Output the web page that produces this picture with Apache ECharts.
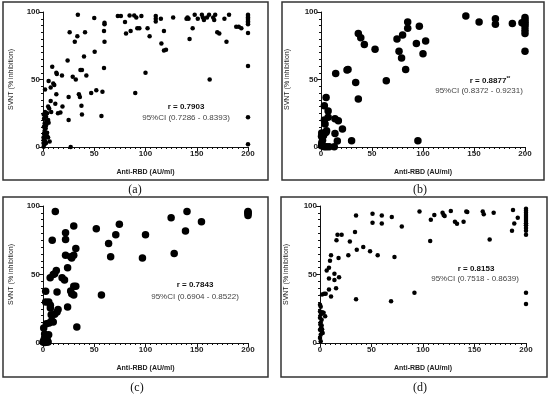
<!DOCTYPE html>
<html><head><meta charset="utf-8">
<script src="https://cdn.jsdelivr.net/npm/echarts@6/dist/echarts.min.js"></script>
<style>html,body{margin:0;padding:0;background:#fff}#c{width:550px;height:396px}</style>
</head><body><div id="c"></div>
<script>
// ---- data (x = Anti-RBD AU/ml, y = SVNT % inhibition) ----
const xTicks = [0, 50, 100, 150, 200];
const yTicks = [0, 50, 100];
const panelLabels = ['(a)', '(b)', '(c)', '(d)'];
const rValues = ['r = 0.7903', 'r = 0.8877', 'r = 0.7843', 'r = 0.8153'];
const ciValues = ['95%CI (0.7286 - 0.8393)', '95%CI (0.8372 - 0.9231)', '95%CI (0.6904 - 0.8522)', '95%CI (0.7518 - 0.8639)'];

const panelA = [[34,98],[50,95.5],[60,92],[60,91],[59.5,86],[60,78],[41,85],[26,85],[33.5,82],[31,78],
[73,97],[76,97],[80,92.6],[84.5,97.5],[89,97.5],[91,96],[96,97],[81,84],[85.5,86],[92,88],[94,88],[102,88],[104,82],
[110,97],[110,95],[110,93],[115,95],[115.5,76.6],[118,86],[118,71.5],[120,72],[127,96],
[140,95],[141,96],[142,95],[143,80],[146,88],[148,98],[151,95],[155,98],[156,96],[157,94],[160,96],[162,98],[166,96],[167,94],[168,98],[170,85],[172,84],[177,95],[179,78],[181.5,98],[188.5,89],[191,89],[193.5,88],
[200,98],[200,97],[200,96],[200,95],[200,94],[200,93],[200,92],[200,91],[200,84.5],[200,60],[200,22],[200,2],
[162.6,50],[100,55],[90,40],
[24,64],[40,67],[50.4,70.5],[59.5,58.6],[9,59.4],[13,55],[13.5,54],[18.5,53],[36.5,57],[38,57],[42.3,53],[29,52],[32,50],[5.5,48.8],[10,47],[11,46],[7.5,44],[2,42.6],[13,39],[7.5,34],[25,37],[35,39],[36,37],[47,40],[52,42],[58,41],[37.5,30.5],[38,24],[57,23],[25,20],[19,30],[14.6,25],[17,25.5],[12,32],[5,30],[6,28.5],[27,0],
[0.7,24],[1,21],[3,22.4],[5,20],[1.6,17.5],[3,16],[0.9,15],[5.5,18],[2.6,13.8],[1.6,12],[4,10.6],[1.6,9],[3,7.6],[5,7],[1,5.7],[6.5,4],[3,3],[1.6,2],[0.6,0.2],[2,26],[4,25],[8,26],[1,10],[2,4.5],[4,8],[0.5,7],[3.5,19],[0.5,3]];

const panelB = [[142,97],[155,92.6],[171,95],[171,91],[187.6,91.4],[200,96],[200,94],[200,92.5],[200,91],[200,89],[200,86.5],[200,84],[200,71],[197,92],
[36.6,84],[39,81],[42.5,76],[53,72.4],[85,92.6],[85,88],[96.4,89.4],[80,83],[74.5,80],[76.5,71],[79,66],[93.5,76.6],[102.6,78.6],[100,69],[83,57.4],[64,49],[34,47.8],[36.6,35.5],[25.5,57],[26.5,57.5],[14.4,54.4],[5,36.7],[3.3,30.5],[7,26.6],[7,22],[13.7,21],[17,19.5],[3.3,20],[4,17],[21,13.3],[13.7,10],[16,4.4],[30,4.7],[95,4.7],[13,0.2],
[0.7,10.3],[2,9],[0.5,8],[4,10.5],[5.5,12],[1.5,5],[0.7,3],[3.3,0.2],[5.5,0.2],[8,0.2],[0.5,1],[2.5,8.5],[5,11]];

const panelC = [[12,96],[30,85.4],[32,69],[22,80.5],[22,75.6],[9,75],[30,64],[22,64],[27,63],[28,62],[24,55],[13,53],[10,50],[11.4,50.5],[7,47.6],[18.6,47.6],[21,46],[2.6,37.8],[13.7,37.3],[27,38],[28,36],[30,35],[30,41.5],[32,41.5],[2.6,30],[5.6,30],[7.2,27.5],[7.2,25.6],[14.7,24.4],[13.7,22.7],[24,26.3],[11.4,21],[8,20.7],[10,15.4],[8.5,16.3],[3.3,14],[0.7,11],[6,14.6],[33,11.7],
[1.6,6.6],[2.6,4],[1,2.4],[3.3,0.5],[5,0.7],[0,0.7],[5.5,6],[1.5,0.3],[4,3],
[52,83.4],[74.5,86.6],[71,79],[64,72.7],[66,63],[57,35],[100,79],[97,62],[125,91.5],[140.5,96],[139,81.7],[128,65.4],[154.6,88.5],[200,96],[200,94.6],[200,93],[200,95.3]];

const panelD = [[35,93],[51,94.4],[51,87.8],[60,93],[60,87.3],[69.7,92],[79.4,85],[96.6,96],[107.6,90],[111,93.4],[107,74.4],[119,95],[120,93.4],[121,92.7],[127,96.3],[131,88.5],[133,87],[139.4,88.5],[142,96],[143,95.6],[158,96],[159,94],[164.7,75.6],[168.6,95],[187.4,97],[186.4,82],[188.6,87.3],[192,91.5],
[200,98],[200,96.5],[200,95],[200,93.5],[200,92],[200,90.5],[200,89],[200,87.5],[200,86],[200,84],[200,82],[200,79],[200,36.6],[200,28.5],
[16,75],[17,79],[21,79],[34,81],[29,74],[18,62],[27.5,64],[35.7,68],[42,70],[48.6,67],[56,64],[72.3,62.7],[10.7,64],[9.7,60],[6.5,53],[8.7,55],[14,50.5],[18.5,48],[8.7,47],[14,46],[15.6,40],[8.7,39],[10.7,34],[2,35.4],[4,36],[5.5,36],[35,32],[69,30.5],[91.7,36.6],[5,19.5],[3.5,22],[2,22.5],
[0,28],[0.7,26.5],[0,23],[1,21],[0,18.5],[1.6,17],[0.7,15],[1.6,12.7],[0,9.7],[1.6,8.5],[2.6,7.3],[0.7,6],[0,3.6],[0.7,1.2],[1,11],[0.3,13.5],[2,10]];

const panels = [panelA, panelB, panelC, panelD];

// ---- layout ----
const grids = [
  {left: 43, right: 302, top: 12, bottom: 249},
  {left: 321, right: 25, top: 12, bottom: 249},
  {left: 43, right: 302, top: 206, bottom: 53},
  {left: 320, right: 24, top: 206, bottom: 53}
];
const symSizes = [4.5, 7.5, 7.5, 4.5];
const boxes = [[3,2,265,178],[282,2,262,178],[3,197,265,180],[281,197,266,180]];
const labelPos = [[135,190],[420,190],[137,388],[420,388]];
const rPos = [[186,107],[490,81],[195,285],[476,269]];
const ciPos = [[186,118],[479,91],[195,297],[475,279]];

const FONT = '"Liberation Sans", Arial, sans-serif';
const axisLineStyle = {color: '#111', width: 1};

const xAxes = grids.map((g, i) => ({
  gridIndex: i, type: 'value', min: xTicks[0], max: xTicks[xTicks.length-1], interval: xTicks[1]-xTicks[0],
  axisLine: {show: true, lineStyle: axisLineStyle},
  axisTick: {show: true, length: 4, lineStyle: axisLineStyle},
  minorTick: {show: true, splitNumber: 10, length: 2, lineStyle: {color: '#111', width: 1}},
  splitLine: {show: false},
  axisLabel: {fontSize: 8, fontWeight: 'bold', color: '#222', fontFamily: FONT, margin: 3},
  name: 'Anti-RBD (AU/ml)', nameLocation: 'middle', nameGap: 22,
  nameTextStyle: {fontSize: 7, fontWeight: 'bold', color: '#222', fontFamily: FONT}
}));
const yAxes = grids.map((g, i) => ({
  gridIndex: i, type: 'value', min: yTicks[0], max: yTicks[yTicks.length-1], interval: yTicks[1]-yTicks[0],
  axisLine: {show: true, lineStyle: axisLineStyle},
  axisTick: {show: true, length: 4, lineStyle: axisLineStyle},
  minorTick: {show: true, splitNumber: 10, length: 2, lineStyle: {color: '#111', width: 1}},
  splitLine: {show: false},
  axisLabel: {fontSize: 8, fontWeight: 'bold', color: '#222', fontFamily: FONT, margin: 3},
  name: 'SVNT (% inhibition)', nameLocation: 'middle', nameGap: (i % 2 === 0) ? 28 : 30,
  nameTextStyle: {fontSize: 7, color: '#222', fontFamily: FONT}
}));
const series = panels.map((d, i) => ({
  type: 'scatter', xAxisIndex: i, yAxisIndex: i, data: d,
  symbol: 'circle', symbolSize: symSizes[i], itemStyle: {color: '#000', opacity: 1}, silent: true
}));

const graphic = [];
boxes.forEach(b => graphic.push({type: 'rect', shape: {x: b[0], y: b[1], width: b[2], height: b[3]},
  style: {fill: null, stroke: '#333', lineWidth: 1.5}, silent: true}));
labelPos.forEach((p, i) => graphic.push({type: 'text', x: p[0], y: p[1],
  style: {text: panelLabels[i], font: '12px "Liberation Serif", "DejaVu Serif", serif', fill: '#111', align: 'center', verticalAlign: 'middle'}}));
rPos.forEach((p, i) => graphic.push({type: 'text', x: p[0], y: p[1],
  style: {text: i === 1 ? '{r|' + rValues[i] + '}{s|**}' : '{r|' + rValues[i] + '}',
    rich: {r: {font: 'bold 8px ' + FONT, fill: '#111'}, s: {font: 'bold 5px ' + FONT, fill: '#111', verticalAlign: 'top', padding: [0,0,4,0]}},
    align: 'center', verticalAlign: 'middle'}}));
ciPos.forEach((p, i) => graphic.push({type: 'text', x: p[0], y: p[1],
  style: {text: ciValues[i], font: '8px ' + FONT, fill: '#444', align: 'center', verticalAlign: 'middle'}}));

const chart = echarts.init(document.getElementById('c'), null, {renderer: 'canvas'});
chart.setOption({
  animation: false, backgroundColor: '#fff',
  grid: grids, xAxis: xAxes, yAxis: yAxes, series: series, graphic: graphic
});
</script></body></html>
